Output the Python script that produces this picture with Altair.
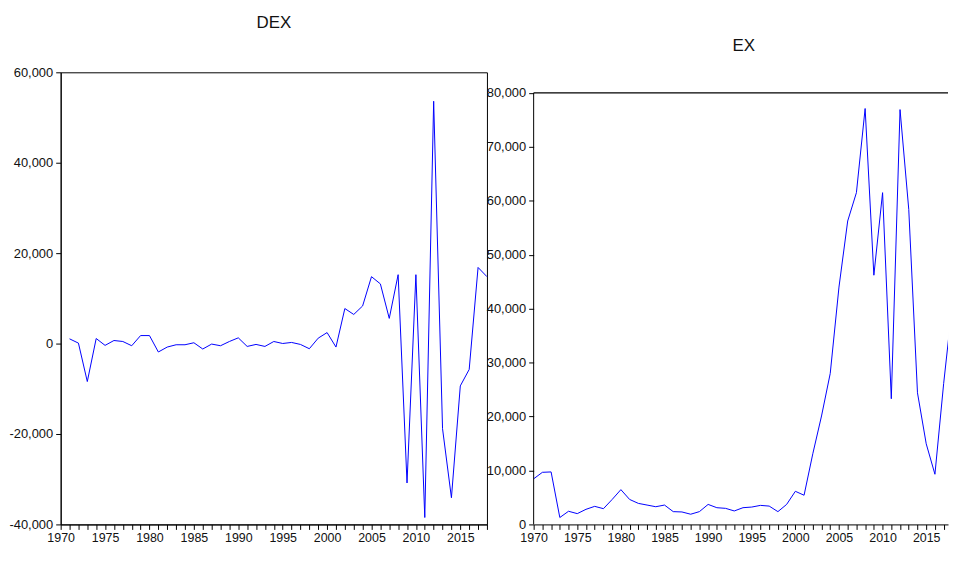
import altair as alt
import pandas as pd

# ---------------- data ----------------
dex_years = list(range(1971, 2019))
dex_values = [
    1050, 100, -8400, 1120, -400, 680, 460, -480, 1770, 1770,
    -1860, -770, -260, -260, 180, -1200, -110, -480, 460, 1270,
    -630, -190, -630, 460, 20, 250, -190, -1140, 1200, 2430,
    -770, 7750, 6440, 8320, 14800, 13200, 5570, 15240, -30830, 15240,
    -38470, 53600, -18820, -34100, -9360, -5720, 16840, 14800,
]
ex_years = list(range(1970, 2019))
ex_values = [
    8450, 9660, 9730, 1280, 2440, 2000, 2800, 3350, 2920, 4630,
    6450, 4630, 3900, 3590, 3280, 3590, 2370, 2310, 1890, 2370,
    3710, 3100, 2980, 2500, 3100, 3220, 3530, 3400, 2370, 3710,
    6140, 5410, 13100, 20100, 28000, 44000, 56250, 61500, 77100, 46200,
    61500, 23300, 76900, 58400, 24400, 14950, 9300, 26100, 40900,
]
dex_ticks = [-40000, -20000, 0, 20000, 40000, 60000]
ex_ticks = [0, 10000, 20000, 30000, 40000, 50000, 60000, 70000, 80000]
year_ticks_left = list(range(1970, 2019))
year_ticks_right = list(range(1970, 2018))

# ---------------- styling ----------------
FONT = "'Liberation Sans Narrow', 'Liberation Sans', Arial, sans-serif"
BLUE = "#0000FF"
PANEL_H = 455
LEFT_W = 429
RIGHT_W = 417
RIGHT_XMAX = 2017.5
EX_TOP = 80000
EX_DOMAIN_TOP = EX_TOP * PANEL_H / 434.3

dex_df = pd.DataFrame({"year": dex_years, "value": dex_values})
ex_df = pd.DataFrame({"year": ex_years, "value": ex_values})
frame_df = pd.DataFrame({"x0": [1970], "x1": [RIGHT_XMAX], "y0": [0], "ytop": [EX_TOP]})

x_label_expr = "datum.value % 5 == 0 ? format(datum.value, 'd') : ''"
y_label_expr = "(datum.value < 0 ? '-' : '') + format(abs(datum.value), ',d')"

def x_axis(vals):
    return alt.Axis(values=vals, labelExpr=x_label_expr, title=None,
                    grid=False, tickSize=5, labelPadding=2, labelFontSize=12.5,
                    labelFlush=False, labelOverlap=False)

def y_axis(vals, domain=True):
    return alt.Axis(values=vals, labelExpr=y_label_expr, title=None, grid=False,
                    domain=domain, tickSize=5, labelPadding=3, labelFontSize=13,
                    labelOverlap=False)

left = alt.Chart(dex_df).mark_line(color=BLUE, strokeWidth=1).encode(
    x=alt.X("year:Q", scale=alt.Scale(domain=[1970, 2018], nice=False, zero=False),
            axis=x_axis(year_ticks_left)),
    y=alt.Y("value:Q", scale=alt.Scale(domain=[-40000, 60000], nice=False, zero=False),
            axis=y_axis(dex_ticks)),
).properties(
    width=LEFT_W, height=PANEL_H,
    title=alt.Title("DEX", offset=35),
    view=alt.ViewBackground(stroke="black", strokeWidth=1),
)

rx = alt.Scale(domain=[1970, RIGHT_XMAX], nice=False, zero=False)
ry = alt.Scale(domain=[0, EX_DOMAIN_TOP], nice=False, zero=False)

ex_line = alt.Chart(ex_df).mark_line(color=BLUE, strokeWidth=1, clip=True).encode(
    x=alt.X("year:Q", scale=rx, axis=x_axis(year_ticks_right)),
    y=alt.Y("value:Q", scale=ry, axis=y_axis(ex_ticks, domain=False)),
)
top_rule = alt.Chart(frame_df).mark_rule(color="black", strokeWidth=1.5).encode(
    x=alt.X("x0:Q", scale=rx, axis=x_axis(year_ticks_right)),
    x2="x1:Q",
    y=alt.Y("ytop:Q", scale=ry, axis=y_axis(ex_ticks, domain=False)),
)
left_rule = alt.Chart(frame_df).mark_rule(color="black", strokeWidth=1).encode(
    x=alt.X("x0:Q", scale=rx, axis=x_axis(year_ticks_right)),
    y=alt.Y("y0:Q", scale=ry, axis=y_axis(ex_ticks, domain=False)),
    y2="ytop:Q",
)
right = alt.layer(ex_line, top_rule, left_rule).properties(
    width=RIGHT_W, height=PANEL_H,
    title=alt.Title("EX", offset=17, dx=3),
    view=alt.ViewBackground(stroke="transparent"),
)

chart = alt.hconcat(left, right, spacing=47, bounds="flush").properties(
    padding={"left": 0, "top": 3, "right": 0, "bottom": 0},
).configure_axis(
    domainColor="black", tickColor="black", labelColor="#111111",
    labelFont=FONT, domainWidth=1, tickWidth=1,
).configure_title(
    font=FONT, fontSize=17, fontWeight="normal", color="#111111", anchor="middle",
)

chart.save("out.html", embed_options={"renderer": "svg", "actions": False})
